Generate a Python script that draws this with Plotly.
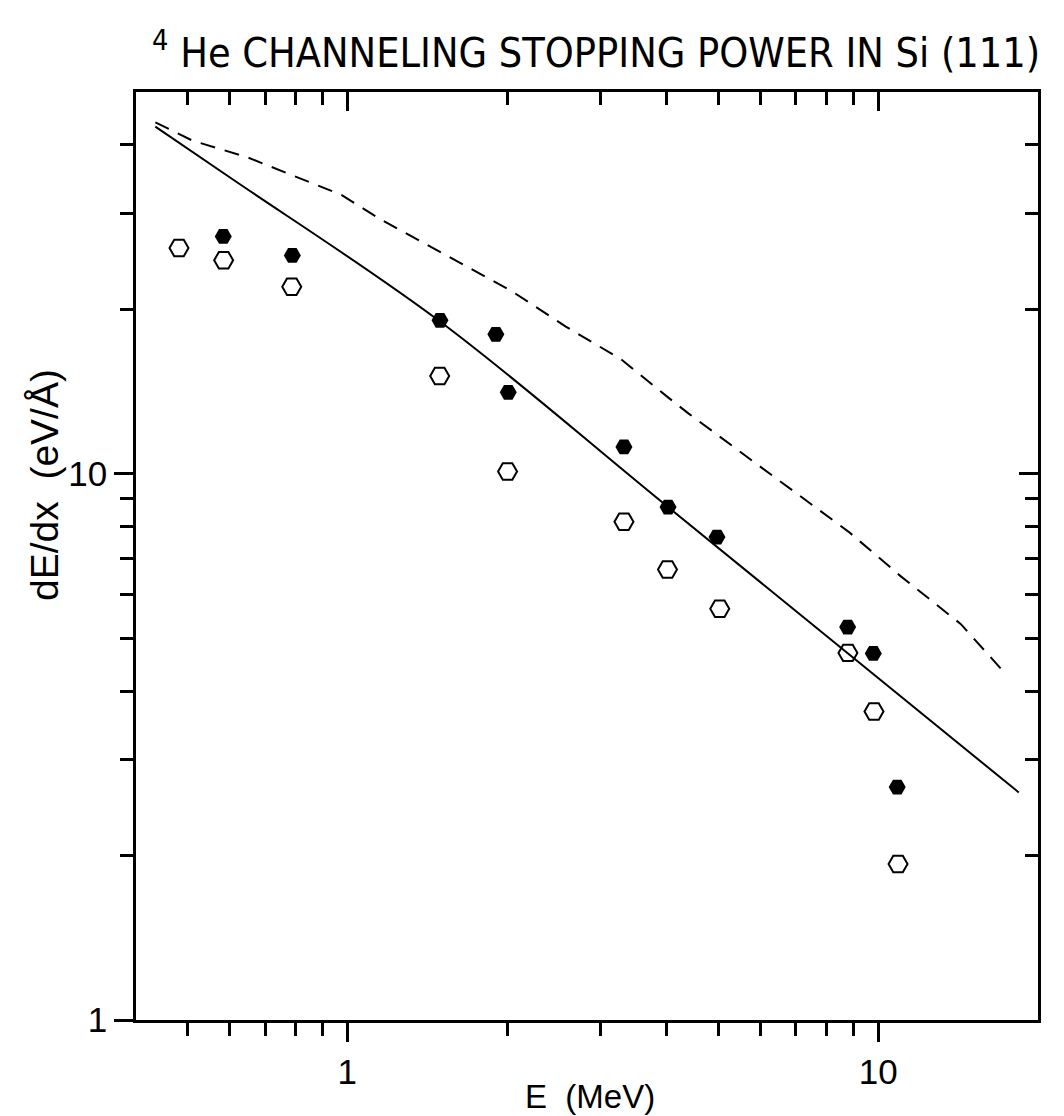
import math
import plotly.graph_objects as go

# ---- data ----
filled_E = [0.584, 0.788, 1.495, 1.905, 2.01, 3.32, 4.02, 4.97, 8.76, 9.79, 10.86]
filled_S = [27.2, 25.1, 19.1, 18.0, 14.1, 11.2, 8.69, 7.66, 5.24, 4.69, 2.67]

open_E = [0.482, 0.585, 0.786, 1.493, 2.004, 3.32, 4.01, 5.03, 8.77, 9.82, 10.9]
open_S = [25.9, 24.6, 22.0, 15.1, 10.1, 8.17, 6.68, 5.66, 4.70, 3.67, 1.93]

solid_E = [0.435, 0.611, 1.495, 4.02, 18.4]
solid_S = [43.2, 34.5, 19.0, 8.69, 2.61]

dashed_E = [0.435, 0.512, 0.647, 0.817, 0.975, 1.164, 1.432, 2.04, 2.58, 3.28,
            4.02, 4.39, 5.92, 8.80, 10.99, 14.3, 17.5]
dashed_S = [44.0, 40.7, 38.0, 34.7, 32.4, 29.1, 26.1, 21.6, 18.6, 16.2,
            13.8, 12.9, 10.4, 7.83, 6.51, 5.31, 4.27]

x_range = [0.4, 20]
y_range = [1, 50]
x_major = [1, 10]
x_major_text = ["1", "10"]
x_minor = [0.5, 0.6, 0.7, 0.8, 0.9, 2, 3, 4, 5, 6, 7, 8, 9]
y_major = [1, 10]
y_major_text = ["1", "10"]
y_minor = [2, 3, 4, 5, 6, 7, 8, 9, 20, 30, 40]

title_text = "<sup>4</sup> He CHANNELING STOPPING POWER IN Si (111)"
x_title = "E  (MeV)"
y_title = "dE/dx  (eV/Å)"

# ---- figure ----
W, H = 1064, 1116
L, R, T, B = 136, 26, 92, 96
pw, ph = W - L - R, H - T - B


def px(xp):
    return (xp - L) / pw


def py(yp):
    return (H - B - yp) / ph


fig = go.Figure()
fig.add_trace(go.Scatter(x=dashed_E, y=dashed_S, mode="lines",
                         line=dict(color="black", width=2, dash="15px,10px"),
                         showlegend=False))
fig.add_trace(go.Scatter(x=solid_E, y=solid_S, mode="lines",
                         line=dict(color="black", width=2), line_shape="spline",
                         showlegend=False))
fig.add_trace(go.Scatter(x=open_E, y=open_S, mode="markers",
                         marker=dict(symbol="hexagon2-open", size=19, color="black",
                                     line=dict(width=2, color="black")),
                         showlegend=False))
fig.add_trace(go.Scatter(x=filled_E, y=filled_S, mode="markers",
                         marker=dict(symbol="hexagon2", size=17, color="black"),
                         showlegend=False))
# invisible trace to hold the mirrored axes
fig.add_trace(go.Scatter(x=[x_range[0]], y=[y_range[0]], xaxis="x2", yaxis="y2",
                         mode="markers", marker=dict(opacity=0), showlegend=False,
                         hoverinfo="skip"))

xr = [math.log10(v) for v in x_range]
yr = [math.log10(v) for v in y_range]

tickfont = dict(family="Liberation Sans, Arial, sans-serif", size=35, color="black")

axis_common = dict(showgrid=False, zeroline=False, showline=True, linecolor="black",
                   linewidth=2.5, ticks="outside", ticklen=19, tickwidth=2.5,
                   tickcolor="black", tickfont=tickfont)

mirror_common = dict(showticklabels=False, showgrid=False, zeroline=False,
                     showline=True, linecolor="black", linewidth=2.5,
                     ticks="inside", ticklen=19, tickwidth=2.5, tickcolor="black")

fig.update_layout(
    width=W, height=H,
    margin=dict(l=L, r=R, t=T, b=B),
    plot_bgcolor="white", paper_bgcolor="white",
    xaxis=dict(type="log", range=xr, tickmode="array", tickvals=x_major,
               ticktext=x_major_text,
               minor=dict(tickmode="array", tickvals=x_minor, ticks="outside",
                          ticklen=13, tickwidth=2.5, tickcolor="black", showgrid=False),
               **axis_common),
    yaxis=dict(type="log", range=yr, tickmode="array", tickvals=y_major,
               ticktext=y_major_text,
               minor=dict(tickmode="array", tickvals=y_minor, ticks="outside",
                          ticklen=13, tickwidth=2.5, tickcolor="black", showgrid=False),
               **axis_common),
    xaxis2=dict(type="log", range=xr, overlaying="x", side="top", anchor="y",
                tickmode="array", tickvals=x_major,
                minor=dict(tickmode="array", tickvals=x_minor, ticks="inside",
                           ticklen=13, tickwidth=2.5, tickcolor="black", showgrid=False),
                **mirror_common),
    yaxis2=dict(type="log", range=yr, overlaying="y", side="right", anchor="x",
                tickmode="array", tickvals=y_major,
                minor=dict(tickmode="array", tickvals=y_minor, ticks="inside",
                           ticklen=13, tickwidth=2.5, tickcolor="black", showgrid=False),
                **mirror_common),
    annotations=[
        dict(text=title_text, xref="paper", yref="paper", x=px(150), y=py(50),
             xanchor="left", yanchor="middle", showarrow=False,
             font=dict(family="DejaVu Sans Condensed, Liberation Sans Narrow, sans-serif",
                       size=41, color="black")),
        dict(text=x_title, xref="paper", yref="paper", x=px(590), y=py(1096),
             xanchor="center", yanchor="middle", showarrow=False,
             font=dict(family="Liberation Sans, Arial, sans-serif", size=33, color="black")),
        dict(text=y_title, xref="paper", yref="paper", x=px(44), y=py(485),
             xanchor="center", yanchor="middle", showarrow=False, textangle=-90,
             font=dict(family="Liberation Sans, Arial, sans-serif", size=39, color="black")),
    ],
)

fig.write_html("out.html")
